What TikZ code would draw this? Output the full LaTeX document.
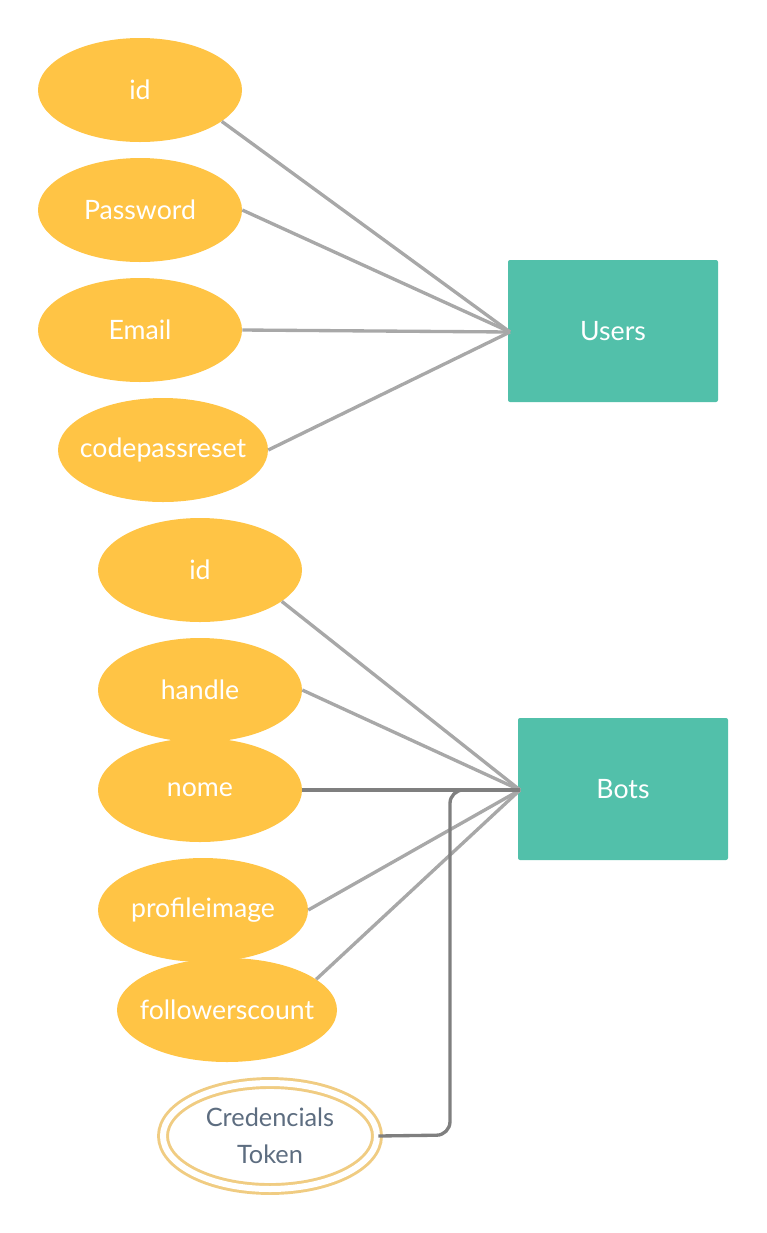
\documentclass[tikz,border=0pt]{standalone}
\usepackage{fontspec}
\setmainfont{Lato}
\usetikzlibrary{shapes.geometric}
\definecolor{attr}{HTML}{FFC445}
\definecolor{ent}{HTML}{52C0AA}
\definecolor{lgray}{HTML}{A8A8A8}
\definecolor{dgray}{HTML}{7F7F7F}
\definecolor{credline}{HTML}{F0CC82}
\definecolor{credtext}{HTML}{5D6D80}
\newcommand{\zw}[1]{\makebox[0pt]{#1}}
\tikzset{
  attrnode/.style={ellipse, fill=attr, draw=none, inner sep=0pt, text=white, font=\fontsize{20}{24}\selectfont, minimum height=104*0.75pt},
  entnode/.style={rectangle, fill=ent, draw=none, rounded corners=1.5pt, text=white, font=\fontsize{20}{24}\selectfont, minimum width=210*0.75pt, minimum height=142*0.75pt},
  link/.style={draw=lgray, line width=2.5pt},
  darklink/.style={draw=dgray, line width=2.5pt}
}
\begin{document}
\begin{tikzpicture}[x=0.75pt, y=-0.75pt]
\useasboundingbox (0,0) rectangle (767,1233);
% Users
\node[attrnode, minimum width=204*0.75pt] (uid) at (140,90) {\zw{id}};
\node[attrnode, minimum width=204*0.75pt] (upass) at (140,210) {\zw{Password}};
\node[attrnode, minimum width=204*0.75pt] (uemail) at (140,330) {\zw{Email}};
\node[attrnode, minimum width=210*0.75pt] (ucode) at (163,450) {\zw{codepassreset}};
\node[entnode] (users) at (613,331) {Users};
\coordinate (uin) at (510,332);
\draw[link] (uid.-21) -- (uin);
\draw[link] (upass.east) -- (uin);
\draw[link] (uemail.east) -- (uin);
\draw[link] (ucode.east) -- (uin);
% Bots
\node[attrnode, minimum width=204*0.75pt] (bid) at (200,570) {\zw{id}};
\node[attrnode, minimum width=204*0.75pt] (bhandle) at (200,690) {\zw{handle}};
\node[attrnode, minimum width=204*0.75pt] (bnome) at (200,790) {\zw{nome}};
\node[attrnode, minimum width=210*0.75pt] (bprof) at (203,910) {\zw{profileimage}};
\node[attrnode, minimum width=220*0.75pt] (bfoll) at (227,1010) {\zw{followerscount}};
\node[entnode] (bots) at (623,789) {Bots};
\coordinate (bin) at (520,790);
\draw[link] (bid.-21) -- (bin);
\draw[link] (bhandle.east) -- (bin);
\draw[link] (bprof.east) -- (bin);
\draw[link] (bfoll.19) -- (bin);
\draw[darklink] (bnome.east) -- (bin);
% Credencials Token
\node[ellipse, draw=credline, line width=2.2pt, double=white, double distance=4.5pt, fill=white,
      minimum width=214*0.75pt, minimum height=106*0.75pt, inner sep=0pt,
      text=credtext, align=center, font=\fontsize{19}{27.5}\selectfont] (cred) at (270,1136) {Credencials\\Token};
\draw[darklink, rounded corners=10pt] (cred.east) -- (450,1135) -- (450,790) -- (bin);
\end{tikzpicture}
\end{document}
